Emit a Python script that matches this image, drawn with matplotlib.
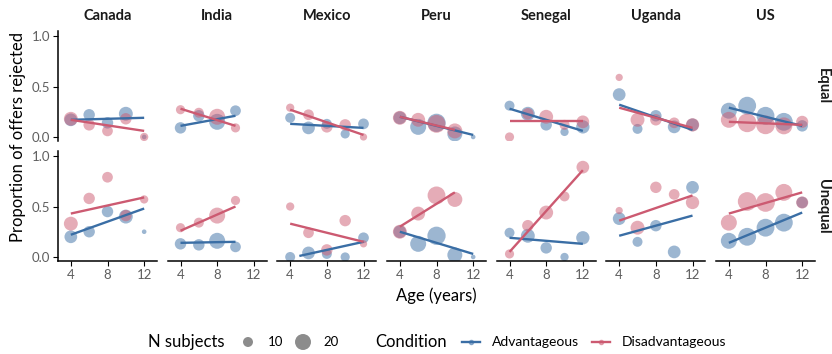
import numpy as np
import matplotlib
matplotlib.use('Agg')
import matplotlib.pyplot as plt

plt.rcParams['font.family'] = ['Lato', 'DejaVu Sans']

nan = np.nan
countries = ['Canada', 'India', 'Mexico', 'Peru', 'Senegal', 'Uganda', 'US']
ages = [4, 6, 8, 10, 12]
conditions = ['Advantageous', 'Disadvantageous']
contexts = ['Equal', 'Unequal']

# number of subjects per age bin
n_adv = [[14, 12, 12, 16, 5],
         [12, 12, 20, 11, nan],
         [10, 14, 10, 9, 11],
         [14, 20, 25, 18, 5],
         [10, 16, 12, 8, 15],
         [14, 10, 12, 14, 14],
         [20, 24, 24, 24, 12]]
n_dis = [[16, 12, 11, 12, 8],
         [9, 10, 20, 9, nan],
         [8, 11, 12, 12, 7],
         [16, 16, 24, 18, nan],
         [9, 12, 16, 10, 14],
         [7, 16, 12, 11, 15],
         [20, 26, 26, 22, 13]]

# proportion of offers rejected
equal_adv = [[0.17, 0.22, 0.14, 0.23, 0.00],
             [0.09, 0.21, 0.15, 0.26, nan],
             [0.19, 0.09, 0.13, 0.03, 0.13],
             [0.19, 0.10, 0.14, 0.03, 0.00],
             [0.31, 0.23, 0.12, 0.05, 0.10],
             [0.42, 0.08, 0.21, 0.10, 0.12],
             [0.26, 0.31, 0.21, 0.15, 0.11]]
equal_dis = [[0.18, 0.12, 0.06, 0.18, 0.00],
             [0.27, 0.24, 0.20, 0.09, nan],
             [0.29, 0.22, 0.10, 0.12, 0.00],
             [0.19, 0.17, 0.13, 0.06, nan],
             [0.00, 0.23, 0.20, 0.12, 0.15],
             [0.59, 0.17, 0.17, 0.14, 0.12],
             [0.17, 0.14, 0.12, 0.11, 0.15]]
unequal_adv = [[0.20, 0.25, 0.45, 0.40, 0.25],
               [0.13, 0.12, 0.16, 0.10, nan],
               [0.00, 0.04, 0.03, 0.00, 0.19],
               [0.25, 0.13, 0.21, 0.02, 0.00],
               [0.24, 0.21, 0.09, 0.00, 0.19],
               [0.38, 0.15, 0.31, 0.05, 0.69],
               [0.16, 0.20, 0.29, 0.34, 0.54]]
unequal_dis = [[0.33, 0.58, 0.79, 0.41, 0.57],
               [0.29, 0.34, 0.41, 0.56, nan],
               [0.50, 0.24, 0.07, 0.36, 0.13],
               [0.25, 0.43, 0.61, 0.57, nan],
               [0.03, 0.31, 0.44, 0.60, 0.89],
               [0.46, 0.29, 0.69, 0.62, 0.54],
               [0.34, 0.55, 0.54, 0.64, 0.54]]

# linear fits: (age from, age to, fitted from, fitted to)
fit_equal_adv = [(4, 12, 0.17, 0.19), (4, 10, 0.11, 0.21), (4, 12, 0.13, 0.09),
                 (4, 12, 0.20, 0.02), (4, 12, 0.28, 0.06), (4, 12, 0.32, 0.07),
                 (4, 12, 0.29, 0.11)]
fit_equal_dis = [(4, 12, 0.17, 0.06), (4, 10, 0.28, 0.11), (4, 12, 0.27, 0.02),
                 (4, 10, 0.20, 0.07), (4, 12, 0.16, 0.16), (4, 12, 0.29, 0.09),
                 (4, 12, 0.15, 0.12)]
fit_unequal_adv = [(4, 12, 0.22, 0.48), (4, 10, 0.14, 0.15), (5, 12, 0.01, 0.15),
                   (4, 12, 0.25, 0.03), (4, 12, 0.19, 0.13), (4, 12, 0.21, 0.41),
                   (4, 12, 0.14, 0.44)]
fit_unequal_dis = [(4, 12, 0.43, 0.59), (4, 10, 0.26, 0.50), (4, 12, 0.33, 0.15),
                   (4, 10, 0.30, 0.64), (4, 12, 0.05, 0.86), (4, 12, 0.36, 0.61),
                   (4, 12, 0.43, 0.64)]

blue = '#3a6ea5'
red = '#cc5a71'


def to_size(n):
    return np.clip(8.1 * np.asarray(n, dtype=float) - 29.5, 6, None)


W, H = 832, 354
fig = plt.figure(figsize=(W / 100, H / 100), dpi=100)

rows = [(equal_adv, equal_dis, fit_equal_adv, fit_equal_dis),
        (unequal_adv, unequal_dis, fit_unequal_adv, fit_unequal_dis)]
row_px = [(31, 141), (151, 261)]
col_px = [58 + i * 109.67 for i in range(len(countries))]
pw = 99

for r, (adv, dis, fadv, fdis) in enumerate(rows):
    top, bottom = row_px[r]
    for c, country in enumerate(countries):
        ax = fig.add_axes([col_px[c] / W, 1 - bottom / H, pw / W, (bottom - top) / H])
        ax.patch.set_alpha(0)
        ax.scatter(ages, adv[c], s=to_size(n_adv[c]), color=blue, alpha=0.5,
                   edgecolors='none', zorder=2)
        ax.scatter(ages, dis[c], s=to_size(n_dis[c]), color=red, alpha=0.5,
                   edgecolors='none', zorder=2)
        for fit, col in [(fadv[c], blue), (fdis[c], red)]:
            ax.plot(fit[:2], fit[2:], color=col, lw=1.7, solid_capstyle='butt', zorder=3)

        ax.set_xlim(2.6, 13.4)
        ax.set_ylim(-0.04, 1.05)
        ax.set_xticks([4, 8, 12])
        ax.set_yticks([0, 0.5, 1.0])
        ax.set_yticklabels(['0.0', '0.5', '1.0'])
        ax.tick_params(length=3.5, width=0.8, color='black', labelcolor='#5e5e5e',
                       labelsize=9.5, pad=2)
        for s in ['top', 'right']:
            ax.spines[s].set_visible(False)
        for s in ['left', 'bottom']:
            ax.spines[s].set_linewidth(1.1)
        if c > 0:
            ax.spines['left'].set_visible(False)
            ax.tick_params(axis='y', left=False, labelleft=False)
        if r == 0:
            ax.spines['bottom'].set_visible(False)
            ax.tick_params(axis='x', bottom=False, labelbottom=False)
            fig.text((col_px[c] + pw / 2) / W, 1 - 16 / H, country, ha='center',
                     va='center', fontsize=10.5, fontweight='bold', color='#1a1a1a')
    fig.text(830 / W, 1 - (top + bottom) / 2 / H, contexts[r], rotation=-90,
             ha='right', va='center', fontsize=10.5, fontweight='bold', color='#1a1a1a')

fig.text(18 / W, 1 - 137 / H, 'Proportion of offers rejected', rotation=90,
         ha='center', va='center', fontsize=12)
fig.text(436 / W, 1 - 296 / H, 'Age (years)', ha='center', va='center', fontsize=12)

# legend drawn by hand along the bottom
lax = fig.add_axes([0, 0, 1, 1])
lax.set_xlim(0, W)
lax.set_ylim(H, 0)
lax.axis('off')
ly = 342
lax.text(225, ly, 'N subjects', ha='right', va='center', fontsize=12)
lax.scatter([248, 303], [ly, ly], s=to_size([10, 20]), color='black', alpha=0.45,
            edgecolors='none')
lax.text(268, ly, '10', ha='left', va='center', fontsize=9.5)
lax.text(323, ly, '20', ha='left', va='center', fontsize=9.5)
lax.text(375, ly, 'Condition', ha='left', va='center', fontsize=12)
for x0, col, lab in [(462, blue, conditions[0]), (592, red, conditions[1])]:
    lax.plot([x0, x0 + 18], [ly, ly], color=col, lw=1.7)
    lax.plot([x0 + 9], [ly], 'o', color=col, ms=3, alpha=0.5)
    lax.text(x0 + 30, ly, lab, ha='left', va='center', fontsize=10)

fig.savefig('out.png', dpi=100)
